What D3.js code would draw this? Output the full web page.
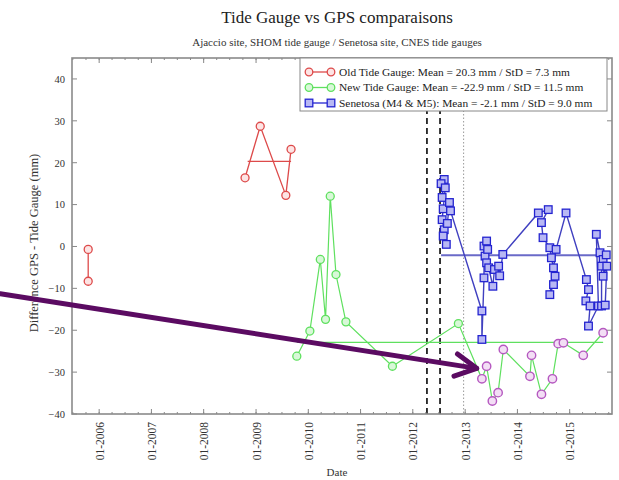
<!DOCTYPE html>
<html>
<head>
<meta charset="utf-8">
<script src="https://cdn.jsdelivr.net/npm/d3@7"></script>
<style>
  html, body { margin: 0; padding: 0; background: #fff; }
  svg { display: block; font-family: "Liberation Serif", "DejaVu Serif", serif; }
</style>
</head>
<body>
<svg id="chart" width="619" height="480"></svg>
<script>
// ---- data (dates as decimal years, values in mm) ----
const oldGaugeEarly = [[2005.79, -0.7], [2005.79, -8.3]];
const oldGaugeLate = [[2008.79, 16.4], [2009.08, 28.7], [2009.57, 12.2], [2009.67, 23.2]];
const oldGaugeMean = { value: 20.3, from: 2008.84, to: 2009.67 };

const newGaugeGreen = [
  [2009.78, -26.2], [2010.03, -20.2], [2010.23, -3.1], [2010.33, -17.4], [2010.42, 12.0],
  [2010.53, -6.7], [2010.72, -18.0], [2011.61, -28.6], [2012.87, -18.4]
];
const newGaugePurple = [
  [2013.32, -31.6], [2013.41, -28.6], [2013.52, -36.9], [2013.63, -34.9], [2013.73, -24.6],
  [2014.24, -31.0], [2014.27, -26.0], [2014.46, -35.3], [2014.67, -31.6], [2014.78, -23.2],
  [2014.88, -23.0], [2015.26, -26.0], [2015.64, -20.6]
];
const newGaugeMean = { value: -22.9, from: 2009.78, to: 2015.64 };

const senetosa = [
  [2012.56, 11.7], [2012.60, 16.0], [2012.54, 15.0], [2012.62, 14.0], [2012.58, 9.0],
  [2012.56, 6.4], [2012.60, 4.0], [2012.58, 2.5], [2012.64, 0.5], [2012.66, 5.5],
  [2012.70, 10.5], [2012.72, 8.5],
  [2013.32, -15.4], [2013.32, -22.2], [2013.36, -7.5], [2013.36, 0.1], [2013.41, 1.3],
  [2013.38, -2.3], [2013.43, -0.7], [2013.41, -3.9], [2013.45, -5.1], [2013.53, -9.5],
  [2013.56, -5.5], [2013.64, -4.7], [2013.66, -7.0], [2013.72, -1.9],
  [2014.40, 8.0], [2014.59, 8.8], [2014.46, 5.7], [2014.49, 2.1], [2014.62, -0.3],
  [2014.65, -2.7], [2014.69, -5.1], [2014.72, -7.1], [2014.69, -9.1], [2014.62, -11.5],
  [2014.74, -0.7], [2014.93, 8.0],
  [2015.32, -7.9], [2015.36, -10.3], [2015.31, -13.0], [2015.39, -14.2], [2015.36, -19.0],
  [2015.55, -14.2], [2015.51, 2.9], [2015.58, -1.5], [2015.64, -3.1], [2015.61, -4.7],
  [2015.61, -14.2], [2015.68, -14.0], [2015.71, -4.7], [2015.64, -7.1], [2015.70, -2.0]
];
const senetosaMean = { value: -2.1, from: 2012.54, to: 2015.71 };

const dashedEvents = [2012.27, 2012.52];
const dottedEvents = [2012.97];

const legendLabels = [
  "Old Tide Gauge: Mean = 20.3 mm / StD = 7.3 mm",
  "New Tide Gauge: Mean = -22.9 mm / StD = 11.5 mm",
  "Senetosa (M4 & M5): Mean = -2.1 mm / StD = 9.0 mm"
];
const yTickValues = [40, 30, 20, 10, 0, -10, -20, -30, -40];
const arrowTail = [2004.11, -11.3];
const arrowTip = [2013.22, -29.1];

// ---- helpers ----
function toDate(t) {
  const y = Math.floor(t);
  const a = new Date(y, 0, 1), b = new Date(y + 1, 0, 1);
  return new Date(+a + (t - y) * (b - a));
}

const svg = d3.select("#chart");
const L = 72, R = 612, T = 58, B = 414;

const x = d3.scaleTime().domain([toDate(2005.48), toDate(2015.81)]).range([L, R]);
const y = d3.scaleLinear().domain([-40, 45]).range([B, T]);

const colors = {
  red: "#dd4a4a", redFill: "#fde4e4",
  green: "#5fe05f", greenFill: "#d8f8d8",
  purple: "#b558c0", purpleFill: "#f3def5",
  blue: "#2424d0", blueFill: "#b8b8f4", blueLine: "#4040c0"
};

// titles
svg.append("text").attr("x", 337).attr("y", 23).attr("text-anchor", "middle")
  .attr("font-size", 17).attr("fill", "#222").text("Tide Gauge vs GPS comparaisons");
svg.append("text").attr("x", 337).attr("y", 46).attr("text-anchor", "middle")
  .attr("font-size", 11).attr("fill", "#333").text("Ajaccio site, SHOM tide gauge / Senetosa site, CNES tide gauges");

// clip for the plotting area
svg.append("clipPath").attr("id", "plotclip").append("rect")
  .attr("x", L).attr("y", T).attr("width", R - L).attr("height", B - T);
const plot = svg.append("g").attr("clip-path", "url(#plotclip)");

// ticks (inward, on all four sides)
const tickG = svg.append("g").attr("stroke", "#888").attr("stroke-width", 1);
const years = d3.timeYear.range(toDate(2005.48), toDate(2015.81));
const months = d3.timeMonth.every(3).range(toDate(2005.48), toDate(2015.81));
months.forEach(d => {
  tickG.append("line").attr("x1", x(d)).attr("x2", x(d)).attr("y1", B).attr("y2", B - 2);
  tickG.append("line").attr("x1", x(d)).attr("x2", x(d)).attr("y1", T).attr("y2", T + 2);
});
years.forEach(d => {
  tickG.append("line").attr("x1", x(d)).attr("x2", x(d)).attr("y1", B).attr("y2", B - 5);
  tickG.append("line").attr("x1", x(d)).attr("x2", x(d)).attr("y1", T).attr("y2", T + 5);
});
yTickValues.forEach(v => {
  tickG.append("line").attr("x1", L).attr("x2", L + 5).attr("y1", y(v)).attr("y2", y(v));
  tickG.append("line").attr("x1", R).attr("x2", R - 5).attr("y1", y(v)).attr("y2", y(v));
});

// y axis labels
const yAxis = svg.append("g").attr("transform", `translate(${L},0)`)
  .call(d3.axisLeft(y).tickValues(yTickValues).tickSize(0).tickPadding(7));
yAxis.select(".domain").remove();
yAxis.selectAll("text").attr("font-size", 10.5).attr("fill", "#333")
  .attr("font-family", "Liberation Serif, serif");

// x axis labels (rotated)
const xAxis = svg.append("g").attr("transform", `translate(0,${B})`)
  .call(d3.axisBottom(x).tickValues(years).tickFormat(d3.timeFormat("%m-%Y")).tickSize(0).tickPadding(0));
xAxis.select(".domain").remove();
xAxis.selectAll("text")
  .attr("font-size", 11.5).attr("fill", "#333").attr("font-family", "Liberation Serif, serif")
  .attr("text-anchor", "end").attr("dy", null)
  .attr("transform", "translate(4,8) rotate(-90)");

svg.append("text").attr("x", 337).attr("y", 476).attr("text-anchor", "middle")
  .attr("font-size", 11).attr("fill", "#333").text("Date");
svg.append("text").attr("transform", "translate(38,243) rotate(-90)").attr("text-anchor", "middle")
  .attr("font-size", 12.5).attr("fill", "#333").text("Difference GPS - Tide Gauge (mm)");

// event lines
dashedEvents.forEach(t => {
  plot.append("line").attr("x1", x(toDate(t))).attr("x2", x(toDate(t))).attr("y1", T).attr("y2", B)
    .attr("stroke", "#222").attr("stroke-width", 1.8).attr("stroke-dasharray", "6,4");
});
dottedEvents.forEach(t => {
  plot.append("line").attr("x1", x(toDate(t))).attr("x2", x(toDate(t))).attr("y1", T).attr("y2", B)
    .attr("stroke", "#999").attr("stroke-width", 1).attr("stroke-dasharray", "1.5,2");
});

const line = d3.line().x(d => x(toDate(d[0]))).y(d => y(d[1]));

function meanLine(m, color, w) {
  plot.append("line").attr("x1", x(toDate(m.from))).attr("x2", x(toDate(m.to)))
    .attr("y1", y(m.value)).attr("y2", y(m.value)).attr("stroke", color).attr("stroke-width", w);
}

// Old tide gauge
meanLine(oldGaugeMean, colors.red, 1.3);
[oldGaugeEarly, oldGaugeLate].forEach(s => {
  plot.append("path").datum(s).attr("d", line).attr("fill", "none")
    .attr("stroke", colors.red).attr("stroke-width", 1.3);
  plot.selectAll(null).data(s).join("circle")
    .attr("cx", d => x(toDate(d[0]))).attr("cy", d => y(d[1])).attr("r", 4)
    .attr("fill", colors.redFill).attr("stroke", colors.red).attr("stroke-width", 1.3);
});

// New tide gauge
meanLine(newGaugeMean, colors.green, 1.3);
plot.append("path").datum(newGaugeGreen.concat(newGaugePurple)).attr("d", line).attr("fill", "none")
  .attr("stroke", colors.green).attr("stroke-width", 1.2);
plot.selectAll(null).data(newGaugeGreen).join("circle")
  .attr("cx", d => x(toDate(d[0]))).attr("cy", d => y(d[1])).attr("r", 4)
  .attr("fill", colors.greenFill).attr("stroke", colors.green).attr("stroke-width", 1.3);
plot.selectAll(null).data(newGaugePurple).join("circle")
  .attr("cx", d => x(toDate(d[0]))).attr("cy", d => y(d[1])).attr("r", 4.2)
  .attr("fill", colors.purpleFill).attr("stroke", colors.purple).attr("stroke-width", 1.4);

// Senetosa
meanLine(senetosaMean, "#6a6ac8", 2);
plot.append("path").datum(senetosa).attr("d", line).attr("fill", "none")
  .attr("stroke", colors.blueLine).attr("stroke-width", 1.4);
plot.selectAll(null).data(senetosa).join("rect")
  .attr("x", d => x(toDate(d[0])) - 3.8).attr("y", d => y(d[1]) - 3.8)
  .attr("width", 7.6).attr("height", 7.6)
  .attr("fill", colors.blueFill).attr("stroke", colors.blue).attr("stroke-width", 1.3);

// frame
svg.append("rect").attr("x", L).attr("y", T).attr("width", R - L).attr("height", B - T)
  .attr("fill", "none").attr("stroke", "#8a8a8a").attr("stroke-width", 1.6);

// legend
const lg = svg.append("g");
lg.append("rect").attr("x", 300).attr("y", 58).attr("width", 307).attr("height", 53)
  .attr("fill", "#fff").attr("stroke", "#888").attr("stroke-width", 1);
const legendStyles = [
  { c: colors.red, f: colors.redFill, shape: "circle" },
  { c: colors.green, f: colors.greenFill, shape: "circle" },
  { c: colors.blue, f: colors.blueFill, shape: "square" }
];
legendLabels.forEach((txt, i) => {
  const yy = 72 + i * 15.5, st = legendStyles[i];
  lg.append("line").attr("x1", 309).attr("x2", 331).attr("y1", yy).attr("y2", yy)
    .attr("stroke", st.c).attr("stroke-width", 1.3);
  [309, 331].forEach(cx => {
    if (st.shape === "circle") {
      lg.append("circle").attr("cx", cx).attr("cy", yy).attr("r", 3.8)
        .attr("fill", st.f).attr("stroke", st.c).attr("stroke-width", 1.3);
    } else {
      lg.append("rect").attr("x", cx - 3.8).attr("y", yy - 3.8).attr("width", 7.6).attr("height", 7.6)
        .attr("fill", st.f).attr("stroke", st.c).attr("stroke-width", 1.3);
    }
  });
  lg.append("text").attr("x", 339).attr("y", yy + 3.8).attr("font-size", 11.4)
    .attr("fill", "#222").text(txt);
});

// annotation arrow
const ax0 = x(toDate(arrowTail[0])), ay0 = y(arrowTail[1]);
const ax1 = x(toDate(arrowTip[0])), ay1 = y(arrowTip[1]);
const ang = Math.atan2(ay1 - ay0, ax1 - ax0);
const wing = 24, spread = 28 * Math.PI / 180;
const w1 = [ax1 - wing * Math.cos(ang - spread), ay1 - wing * Math.sin(ang - spread)];
const w2 = [ax1 - wing * Math.cos(ang + spread), ay1 - wing * Math.sin(ang + spread)];
const arrowColor = "#5b0b62";
svg.append("line").attr("x1", ax0).attr("y1", ay0).attr("x2", ax1).attr("y2", ay1)
  .attr("stroke", arrowColor).attr("stroke-width", 5).attr("stroke-linecap", "round");
svg.append("path").attr("d", `M${w1[0]},${w1[1]}L${ax1},${ay1}L${w2[0]},${w2[1]}`)
  .attr("fill", "none").attr("stroke", arrowColor).attr("stroke-width", 5)
  .attr("stroke-linecap", "round").attr("stroke-linejoin", "round");
</script>
</body>
</html>
